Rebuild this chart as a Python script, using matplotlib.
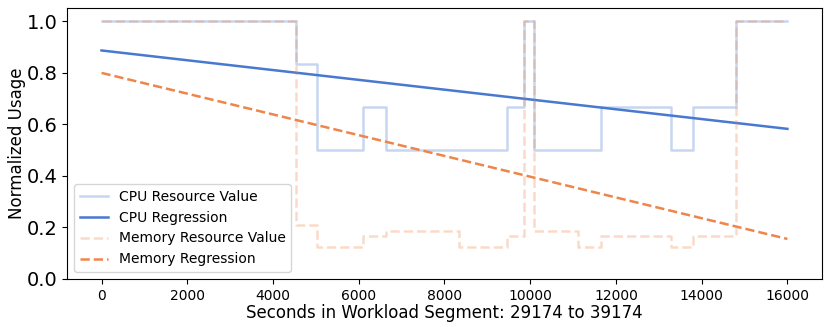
import numpy as np
import matplotlib.pyplot as plt

# step change points (seconds) and levels
cpu_t = [0, 4533, 5023, 6098, 6635, 9463, 9850, 10093, 11660, 13294, 13800, 14790, 16000]
cpu_v = [1.0, 0.833, 0.5, 0.667, 0.5, 0.667, 1.0, 0.5, 0.667, 0.5, 0.667, 1.0, 1.0]

mem_t = [0, 4533, 5023, 6098, 6635, 8340, 9463, 9850, 10093, 11120, 11660, 13294, 13800, 14790, 16000]
mem_v = [1.0, 0.208, 0.125, 0.167, 0.1875, 0.125, 0.167, 1.0, 0.1875, 0.125, 0.167, 0.125, 0.167, 1.0, 1.0]

# regression line endpoints
reg_x = [0, 16000]
cpu_reg = [0.886, 0.582]
mem_reg = [0.799, 0.155]

blue = '#4878d0'
orange = '#ee854a'

fig, ax = plt.subplots(figsize=(8.3, 3.27), dpi=100)

ax.step(cpu_t, cpu_v, where='post', color=blue, alpha=0.3, lw=1.8, label='CPU Resource Value')
ax.plot(reg_x, cpu_reg, color=blue, lw=1.8, label='CPU Regression')
ax.step(mem_t, mem_v, where='post', color=orange, alpha=0.3, lw=1.8, ls='--', label='Memory Resource Value')
ax.plot(reg_x, mem_reg, color=orange, lw=1.8, ls='--', label='Memory Regression')

ax.set_ylim(0, 1.05)
ax.set_xticks(np.arange(0, 16001, 2000))
ax.tick_params(axis='x', labelsize=10)
ax.tick_params(axis='y', labelsize=14)
ax.set_xlabel('Seconds in Workload Segment: 29174 to 39174', fontsize=12, labelpad=1)
ax.set_ylabel('Normalized Usage', fontsize=12, labelpad=0.5)
ax.legend(loc='lower left', fontsize=10)

plt.subplots_adjust(left=0.081, right=0.99, top=0.975, bottom=0.147)
plt.savefig('out.png')
